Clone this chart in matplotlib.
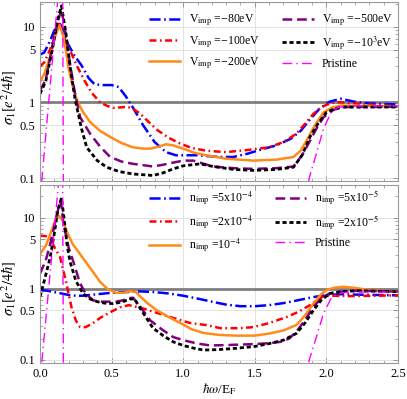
import numpy as np
import matplotlib
matplotlib.use("Agg")
import matplotlib.pyplot as plt
from matplotlib.ticker import FixedLocator, FixedFormatter, MultipleLocator, NullFormatter

plt.rcParams['font.family'] = ['Liberation Serif', 'DejaVu Serif']
plt.rcParams['mathtext.fontset'] = 'stix'
plt.rcParams['lines.scale_dashes'] = False

# ---- top panel: impurity potential ----
x_v80 = [0, 0.03, 0.07, 0.1, 0.135, 0.16, 0.19, 0.24, 0.29, 0.34, 0.38, 0.43, 0.5, 0.55, 0.6,
         0.65, 0.72, 0.8, 0.88, 0.95, 1.1, 1.25, 1.35, 1.45, 1.55, 1.65, 1.75, 1.82, 1.88,
         1.95, 2.02, 2.1, 2.2, 2.3, 2.5]
y_v80 = [4.3, 4.6, 6.5, 9.0, 11.5, 9.0, 6.2, 4.2, 3.1, 2.1, 1.75, 1.7, 1.7, 1.6, 1.2,
         0.85, 0.5, 0.3, 0.22, 0.2, 0.2, 0.19, 0.19, 0.21, 0.24, 0.27, 0.33, 0.42, 0.58,
         0.82, 1.02, 1.12, 1.02, 0.97, 0.94]

x_v100 = [0, 0.03, 0.07, 0.1, 0.135, 0.17, 0.21, 0.26, 0.31, 0.36, 0.42, 0.47, 0.51, 0.56,
          0.61, 0.66, 0.7, 0.76, 0.82, 0.9, 0.98, 1.06, 1.16, 1.3, 1.45, 1.6, 1.7, 1.79,
          1.85, 1.91, 1.97, 2.03, 2.1, 2.2, 2.35, 2.5]
y_v100 = [3.0, 3.4, 5.0, 7.5, 11.0, 7.0, 4.9, 3.0, 1.96, 1.35, 1.0, 0.9, 0.85, 0.86,
          0.88, 0.8, 0.71, 0.55, 0.43, 0.34, 0.285, 0.25, 0.23, 0.22, 0.235, 0.255, 0.3, 0.385,
          0.52, 0.71, 0.88, 0.98, 1.01, 0.97, 0.92, 0.885]

x_v200 = [0, 0.03, 0.07, 0.1, 0.135, 0.16, 0.18, 0.2, 0.23, 0.26, 0.3, 0.35, 0.42, 0.49,
          0.57, 0.65, 0.72, 0.77, 0.83, 0.88, 0.93, 1.0, 1.08, 1.16, 1.3, 1.49, 1.65, 1.77,
          1.82, 1.86, 1.92, 1.98, 2.04, 2.1, 2.3, 2.5]
y_v200 = [1.86, 2.4, 4.0, 7.0, 10.5, 8.0, 5.0, 2.8, 1.6, 1.05, 0.75, 0.55, 0.42, 0.35,
          0.29, 0.255, 0.245, 0.245, 0.26, 0.28, 0.27, 0.245, 0.215, 0.2, 0.18, 0.17, 0.175, 0.19,
          0.23, 0.31, 0.5, 0.74, 0.86, 0.91, 0.9, 0.89]

x_v500 = [0, 0.04, 0.09, 0.125, 0.15, 0.18, 0.21, 0.245, 0.28, 0.35, 0.42, 0.49, 0.57, 0.65,
          0.79, 0.86, 0.93, 1.0, 1.07, 1.14, 1.21, 1.35, 1.49, 1.65, 1.77, 1.83, 1.885, 1.93,
          1.98, 2.05, 2.12, 2.5]
y_v500 = [1.44, 2.0, 6.0, 12.0, 17.0, 8.0, 3.2, 1.3, 0.64, 0.385, 0.26, 0.19, 0.165, 0.154,
          0.142, 0.15, 0.16, 0.17, 0.17, 0.155, 0.142, 0.135, 0.132, 0.135, 0.142, 0.2, 0.31, 0.45,
          0.64, 0.8, 0.87, 0.88]

x_v1000 = [0, 0.04, 0.09, 0.125, 0.15, 0.18, 0.21, 0.245, 0.29, 0.326, 0.4, 0.466, 0.55, 0.65,
           0.79, 0.86, 0.93, 1.0, 1.117, 1.21, 1.35, 1.49, 1.65, 1.77, 1.83, 1.885, 1.94, 2.0,
           2.06, 2.12, 2.5]
y_v1000 = [1.3, 1.9, 5.5, 13.0, 19.0, 8.5, 3.0, 1.1, 0.45, 0.255, 0.17, 0.139, 0.122, 0.113,
           0.108, 0.117, 0.132, 0.145, 0.154, 0.142, 0.13, 0.126, 0.13, 0.139, 0.2, 0.35, 0.52, 0.74,
           0.83, 0.87, 0.87]

# ---- pristine (shared) ----
x_pr = [0.0, 0.135, 0.158, 0.165, np.nan, 1.85, 1.88, 1.93, 1.98, 2.03, 2.08, 2.15, 2.5]
y_pr = [0.05, 40.0, 40.0, 0.01, np.nan, 0.05, 0.1, 0.21, 0.45, 0.72, 0.86, 0.9, 0.9]

# ---- bottom panel: impurity concentration ----
x_n5e4 = [0, 0.05, 0.1, 0.15, 0.2, 0.25, 0.3, 0.4, 0.5, 0.6, 0.7, 0.8, 0.9, 1.0, 1.1, 1.2,
          1.3, 1.4, 1.5, 1.6, 1.7, 1.8, 1.9, 2.0, 2.1, 2.2, 2.5]
y_n5e4 = [0.96, 0.94, 0.9, 0.86, 0.82, 0.8, 0.8, 0.84, 0.88, 0.9, 0.92, 0.9, 0.86, 0.8, 0.73,
          0.66, 0.6, 0.57, 0.57, 0.59, 0.63, 0.69, 0.76, 0.82, 0.84, 0.83, 0.81]

x_n2e4 = [0, 0.04, 0.07, 0.105, 0.14, 0.18, 0.22, 0.25, 0.28, 0.32, 0.37, 0.42, 0.5, 0.56,
          0.62, 0.67, 0.72, 0.8, 0.93, 1.05, 1.16, 1.26, 1.4, 1.49, 1.6, 1.72, 1.8, 1.885,
          1.94, 1.98, 2.05, 2.16, 2.5]
y_n2e4 = [5.6, 5.5, 5.2, 3.7, 2.8, 1.3, 0.55, 0.36, 0.29, 0.29, 0.33, 0.39, 0.48, 0.55,
          0.59, 0.56, 0.53, 0.47, 0.39, 0.33, 0.31, 0.28, 0.28, 0.29, 0.33, 0.4, 0.47, 0.59,
          0.7, 0.79, 0.8, 0.79, 0.81]

x_n1e4 = [0, 0.04, 0.08, 0.11, 0.135, 0.16, 0.19, 0.23, 0.26, 0.3, 0.37, 0.42, 0.47, 0.53,
          0.58, 0.63, 0.67, 0.7, 0.75, 0.815, 0.9, 0.98, 1.06, 1.14, 1.25, 1.37, 1.5, 1.6, 1.7,
          1.79, 1.85, 1.91, 1.96, 2.0, 2.06, 2.12, 2.2, 2.3, 2.5]
y_n1e4 = [3.07, 4.0, 6.5, 9.5, 10.5, 9.0, 6.2, 4.2, 3.5, 2.7, 1.73, 1.25, 1.0, 0.88,
          0.88, 0.93, 0.9, 0.78, 0.63, 0.5, 0.4, 0.33, 0.27, 0.24, 0.225, 0.22, 0.22, 0.235, 0.26,
          0.31, 0.42, 0.62, 0.83, 0.96, 1.04, 1.07, 1.03, 0.96, 0.91]

x_n5e5 = [0, 0.04, 0.08, 0.11, 0.13, 0.145, 0.165, 0.2, 0.23, 0.26, 0.28, 0.32, 0.37, 0.42,
          0.47, 0.53, 0.58, 0.62, 0.65, 0.7, 0.77, 0.85, 0.93, 1.0, 1.1, 1.19, 1.3, 1.49, 1.6,
          1.68, 1.74, 1.79, 1.85, 1.91, 1.96, 2.02, 2.1, 2.21, 2.5]
y_n5e5 = [1.64, 2.5, 5.0, 9.5, 14.0, 17.0, 8.0, 3.8, 2.5, 1.6, 1.19, 0.85, 0.69, 0.66,
          0.66, 0.66, 0.69, 0.74, 0.75, 0.56, 0.36, 0.27, 0.21, 0.19, 0.17, 0.16, 0.162, 0.167, 0.172,
          0.18, 0.2, 0.25, 0.36, 0.56, 0.72, 0.86, 0.91, 0.94, 0.92]

x_n2e5 = [0, 0.03, 0.07, 0.1, 0.125, 0.15, 0.17, 0.19, 0.21, 0.25, 0.3, 0.35, 0.4, 0.45,
          0.51, 0.57, 0.63, 0.66, 0.7, 0.75, 0.79, 0.86, 0.93, 1.0, 1.07, 1.14, 1.25, 1.37, 1.5,
          1.6, 1.7, 1.79, 1.85, 1.91, 1.96, 2.02, 2.1, 2.21, 2.5]
y_n2e5 = [0.77, 1.3, 2.7, 6.0, 13.0, 19.0, 9.0, 4.0, 2.4, 1.3, 0.86, 0.72, 0.66, 0.63,
          0.62, 0.65, 0.72, 0.72, 0.53, 0.37, 0.28, 0.22, 0.18, 0.16, 0.147, 0.138, 0.14, 0.146, 0.155,
          0.17, 0.19, 0.236, 0.33, 0.5, 0.68, 0.86, 0.91, 0.94, 0.91]

labels_top = [r'V$_\mathrm{imp}$ =−80eV', r'V$_\mathrm{imp}$ =−100eV', r'V$_\mathrm{imp}$ =−200eV',
              r'V$_\mathrm{imp}$ =−500eV', r'V$_\mathrm{imp}$ =−10$^3$eV', 'Pristine']
labels_bot = [r'n$_\mathrm{imp}$ =5x10$^{-4}$', r'n$_\mathrm{imp}$ =2x10$^{-4}$',
              r'n$_\mathrm{imp}$ =10$^{-4}$', r'n$_\mathrm{imp}$ =5x10$^{-5}$',
              r'n$_\mathrm{imp}$ =2x10$^{-5}$', 'Pristine']
x_ticks = [0.0, 0.5, 1.0, 1.5, 2.0, 2.5]
x_ticklabels = ['0.0', '0.5', '1.0', '1.5', '2.0', '2.5']
y_ticks = [0.1, 0.5, 1, 5, 10]
y_ticklabels = ['0.1', '0.5', '1', '5', '10']

styles = [
    dict(color='#0000ff', lw=1.8, ls=(0, (8, 2.5, 1.2, 2.5))),
    dict(color='#ff0000', lw=1.8, ls=(0, (5, 2.5, 1.2, 2.5))),
    dict(color='#ff8c1a', lw=1.8, ls='-'),
    dict(color='#800080', lw=1.8, ls=(0, (7, 3.5))),
    dict(color='#000000', lw=2.0, ls=(0, (3, 2))),
    dict(color='#ff00ff', lw=1.0, ls=(0, (7, 3, 1, 3))),
]

fig = plt.figure(figsize=(4.07, 3.99), dpi=100)
ax1 = fig.add_axes([40 / 407, 1 - 181 / 399, 358 / 407, 179 / 399])
ax2 = fig.add_axes([40 / 407, 1 - 363 / 399, 358 / 407, 178 / 399])

series_top = [(x_v80, y_v80), (x_v100, y_v100), (x_v200, y_v200),
              (x_v500, y_v500), (x_v1000, y_v1000), (x_pr, y_pr)]
series_bot = [(x_n5e4, y_n5e4), (x_n2e4, y_n2e4), (x_n1e4, y_n1e4),
              (x_n5e5, y_n5e5), (x_n2e5, y_n2e5), (x_pr, y_pr)]

for ax, series, labels, ylim, leg_y in [(ax1, series_top, labels_top, (0.0913, 21.4), 0.965),
                                        (ax2, series_bot, labels_bot, (0.0907, 28.8), 1.005)]:
    ax.axhline(1, color='#7f7f7f', lw=2.0, zorder=1.8)
    for (xs, ys), st, lab in zip(series, styles, labels):
        ax.plot(xs, ys, label=lab, zorder=2, **st)
    ax.set_yscale('log')
    ax.set_xlim(0, 2.5)
    ax.set_ylim(*ylim)
    ax.yaxis.set_major_locator(FixedLocator(y_ticks))
    ax.yaxis.set_major_formatter(FixedFormatter(y_ticklabels))
    ax.yaxis.set_minor_locator(FixedLocator([0.2, 0.3, 0.4, 0.6, 0.7, 0.8, 0.9,
                                             2, 3, 4, 6, 7, 8, 9, 20]))
    ax.yaxis.set_minor_formatter(NullFormatter())
    ax.xaxis.set_major_locator(FixedLocator(x_ticks))
    ax.xaxis.set_major_formatter(FixedFormatter(x_ticklabels))
    ax.xaxis.set_minor_locator(MultipleLocator(0.1))
    ax.grid(True, which='major', color='#e2e2e2', lw=0.7, zorder=0)
    ax.tick_params(which='both', direction='in', top=True, right=True,
                   colors='#888888', labelcolor='black', labelsize=9)
    ax.tick_params(which='major', length=3.5, width=0.6)
    ax.tick_params(which='minor', length=2, width=0.5)
    for sp in ax.spines.values():
        sp.set_color('#999999')
        sp.set_linewidth(0.8)
    ax.set_ylabel(r'$\sigma_1[e^2/4\hbar]$', fontsize=10.5)
    ax.legend(ncol=2, loc='upper left', bbox_to_anchor=(0.29, leg_y), frameon=False,
              fontsize=8.5, handlelength=2.7, handletextpad=0.7, columnspacing=1.85,
              labelspacing=0.5, borderaxespad=0.0)

ax1.tick_params(labelbottom=False)
ax1.yaxis.set_label_coords(-0.062, 0.47)
ax2.yaxis.set_label_coords(-0.062, 0.42)
ax2.set_xlabel(r'$\hbar\omega$/E$_\mathrm{F}$', fontsize=9.5, labelpad=1)

fig.savefig('out.png', dpi=100)
